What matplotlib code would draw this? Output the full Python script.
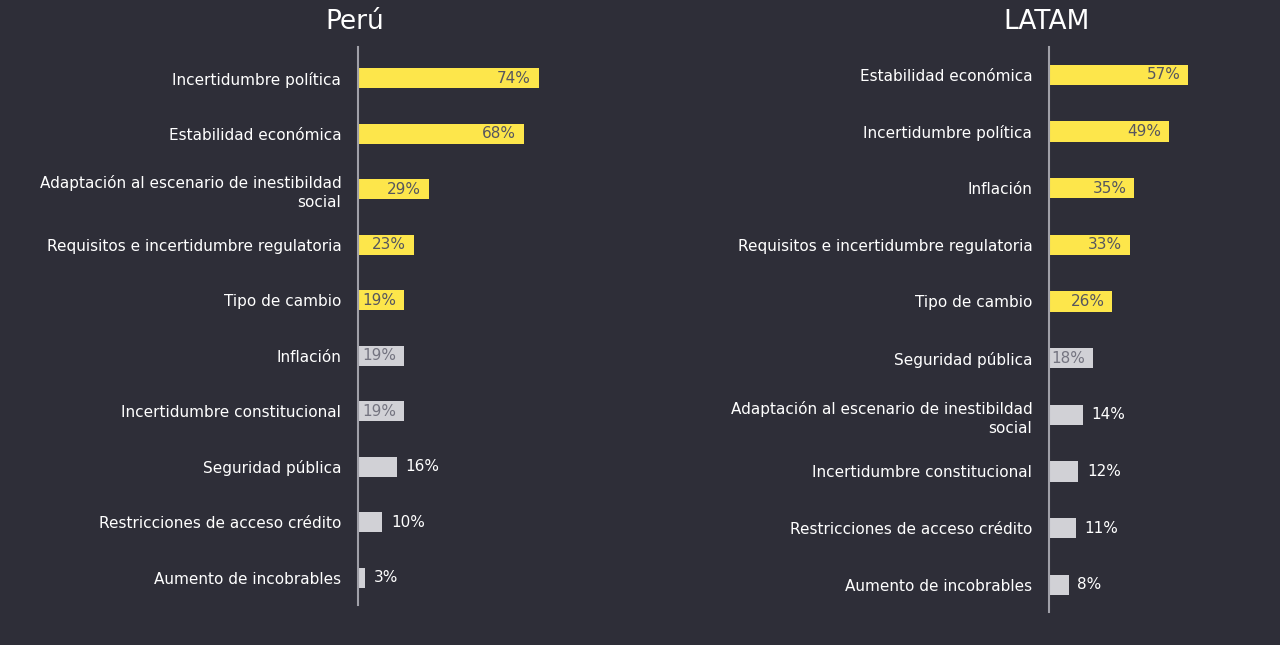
import matplotlib.pyplot as plt

BG = '#2e2e38'
YELLOW = '#fde64b'
GREY = '#d1d1d6'

peru_labels = ['Incertidumbre política', 'Estabilidad económica',
               'Adaptación al escenario de inestibildad\nsocial',
               'Requisitos e incertidumbre regulatoria', 'Tipo de cambio',
               'Inflación', 'Incertidumbre constitucional', 'Seguridad pública',
               'Restricciones de acceso crédito', 'Aumento de incobrables']
peru_values = [74, 68, 29, 23, 19, 19, 19, 16, 10, 3]
peru_highlight = 5

latam_labels = ['Estabilidad económica', 'Incertidumbre política', 'Inflación',
                'Requisitos e incertidumbre regulatoria', 'Tipo de cambio',
                'Seguridad pública',
                'Adaptación al escenario de inestibildad\nsocial',
                'Incertidumbre constitucional', 'Restricciones de acceso crédito',
                'Aumento de incobrables']
latam_values = [57, 49, 35, 33, 26, 18, 14, 12, 11, 8]
latam_highlight = 5

plt.rcParams['font.family'] = ['DejaVu Sans']

fig = plt.figure(figsize=(12.8, 6.45), dpi=100)
fig.patch.set_facecolor(BG)


def draw_panel(rect, title, labels, values, n_hi, ylim, title_x):
    ax = fig.add_axes(rect)
    ax.set_facecolor(BG)
    n = len(values)
    colors = [YELLOW if i < n_hi else GREY for i in range(n)]
    ypos = list(range(n))
    ax.barh(ypos, values, height=0.36, color=colors, edgecolor='none')
    ax.set_xlim(0, 100)
    ax.set_ylim(*ylim)
    for s in ['top', 'right', 'bottom']:
        ax.spines[s].set_visible(False)
    ax.spines['left'].set_color('#a0a0a8')
    ax.spines['left'].set_linewidth(1.5)
    ax.set_xticks([])
    ax.set_yticks(ypos)
    ax.set_yticklabels(labels, color='white', fontsize=11, ha='right',
                       linespacing=1.35)
    ax.tick_params(axis='y', length=0, pad=12)
    for i, v in enumerate(values):
        txt = f'{v}%'
        if v >= 18:
            c = '#56565f' if i < n_hi else '#747480'
            ax.text(v - 3.2, i, txt, ha='right', va='center', fontsize=11,
                    color=c)
        else:
            ax.text(v + 3.5, i, txt, ha='left', va='center', fontsize=11,
                    color='white')
    fig.text(title_x, 1 - 22 / 645, title, ha='center', va='center',
             fontsize=19, color='white')
    return ax


draw_panel([358 / 1280, 1 - 605 / 645, 244 / 1280, 558 / 645], 'Perú',
           peru_labels, peru_values, peru_highlight, (9.49, -0.56), 355 / 1280)
draw_panel([1049 / 1280, 1 - 612 / 645, 244 / 1280, 565 / 645], 'LATAM',
           latam_labels, latam_values, latam_highlight, (9.48, -0.49), 1047 / 1280)

fig.savefig('out.png', dpi=100, facecolor=BG)
